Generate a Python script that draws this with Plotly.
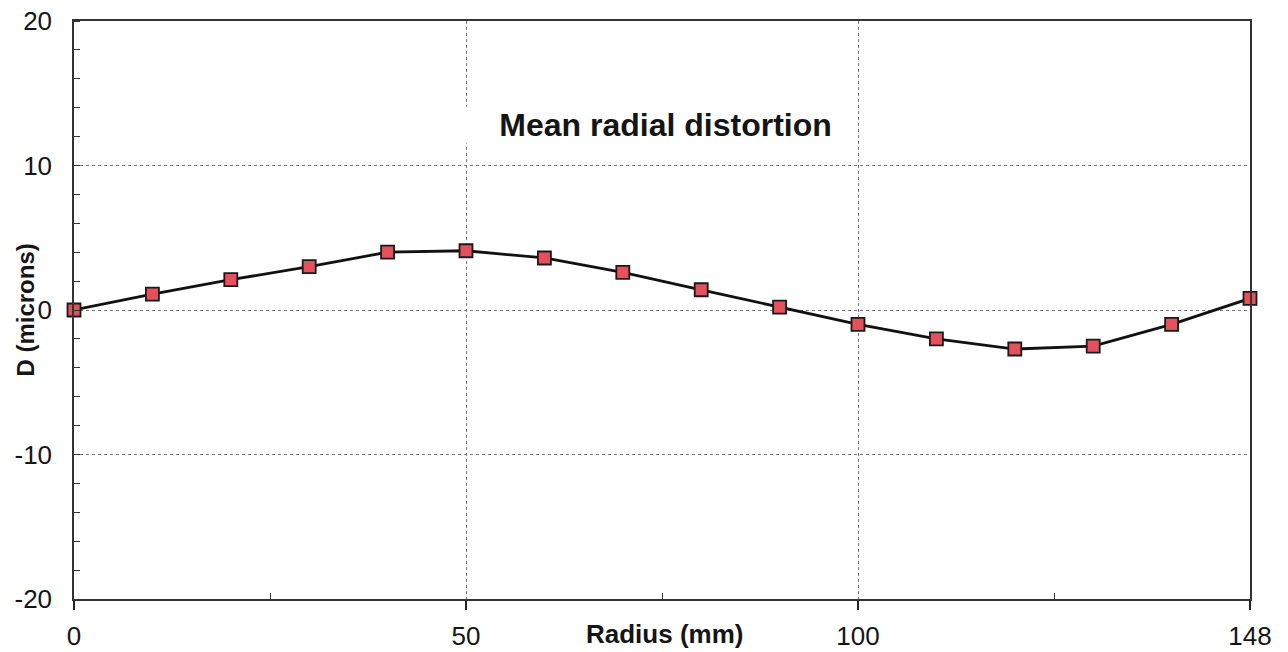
import plotly.graph_objects as go

# Data (category axis: evenly spaced radii, last one is 148)
radius_labels = ["0", "10", "20", "30", "40", "50", "60", "70",
                 "80", "90", "100", "110", "120", "130", "140", "148"]
distortion = [0.0, 1.1, 2.1, 3.0, 4.0, 4.1, 3.6, 2.6,
              1.4, 0.2, -1.0, -2.0, -2.7, -2.5, -1.0, 0.8]

x_tick_labels = ["0", "50", "100", "148"]
x_minor_ticks = [25, 75, 125]
y_tick_vals = [-20, -10, 0, 10, 20]
y_tick_text = ["-20", "-10", "0", "10", "20"]

title_text = "Mean radial distortion"
x_title = "Radius (mm)"
y_title = "D (microns)"

FONT = "Liberation Sans, Arial, sans-serif"
TXT = "#151515"

fig = go.Figure()
fig.add_trace(go.Scatter(
    x=radius_labels, y=distortion,
    mode="lines+markers",
    line=dict(color="#111111", width=2.8),
    marker=dict(symbol="square", size=13, color="#E4505C",
                line=dict(color="#1a1a1a", width=1.8)),
    cliponaxis=False,
    showlegend=False,
))

# page body has an 8px margin, so the figure is sized/offset to compensate
fig.update_layout(
    width=1280, height=644,
    margin=dict(l=66, r=38, t=13, b=53, autoexpand=False),
    paper_bgcolor="white", plot_bgcolor="white",
    font=dict(family=FONT, color=TXT),
    xaxis=dict(
        type="category", automargin=False,
        categoryorder="array", categoryarray=radius_labels,
        range=[0, len(radius_labels) - 1],
        tickmode="array", tickvals=x_tick_labels, ticktext=x_tick_labels,
        ticks="outside", ticklen=9, tickwidth=1.5, tickcolor="#222",
        tickfont=dict(size=26, color=TXT),
        ticklabelstandoff=4, ticklabeloverflow="allow",
        showgrid=True, gridcolor="#777", gridwidth=1, griddash="dot",
        showline=True, linecolor="#333", linewidth=1.5, mirror=True,
        zeroline=False,
    ),
    xaxis2=dict(
        overlaying="x", anchor="y", side="bottom", automargin=False,
        range=[0, 150],
        tickmode="array", tickvals=x_minor_ticks,
        ticks="inside", ticklen=6, tickwidth=1, tickcolor="#333",
        showticklabels=False, showgrid=False, showline=False, zeroline=False,
    ),
    yaxis=dict(
        range=[-20, 20], automargin=False,
        tickmode="array", tickvals=y_tick_vals, ticktext=y_tick_text,
        ticks="", tickfont=dict(size=26, color=TXT),
        ticklabelstandoff=15, ticklabeloverflow="allow",
        showgrid=True, gridcolor="#777", gridwidth=1, griddash="dot",
        showline=True, linecolor="#333", linewidth=1.5, mirror=True,
        zeroline=False,
        minor=dict(dtick=2, ticks="inside", ticklen=6, tickwidth=1,
                   tickcolor="#333", showgrid=False),
    ),
)

# invisible trace so the overlay axis (minor x ticks) is drawn
fig.add_trace(go.Scatter(x=[x_minor_ticks[0]], y=[None], xaxis="x2",
                         mode="markers", showlegend=False, hoverinfo="skip"))

fig.add_annotation(
    text="\u00a0" * 6 + "<b>" + title_text + "</b>" + "\u00a0",
    xref="paper", yref="paper", x=0.484, y=0.82,
    xanchor="center", yanchor="middle", showarrow=False,
    font=dict(size=32, color=TXT, family=FONT),
    bgcolor="white", borderpad=0,
)
fig.add_annotation(
    text="<b>" + x_title + "</b>",
    xref="paper", yref="paper", x=0.502, y=-0.061,
    xanchor="center", yanchor="middle", showarrow=False,
    font=dict(size=26, color=TXT, family=FONT),
)
fig.add_annotation(
    text="<b>" + y_title + "</b>",
    xref="paper", yref="paper", x=-0.042, y=0.5,
    xanchor="center", yanchor="middle", showarrow=False, textangle=-90,
    font=dict(size=24, color=TXT, family=FONT),
)

fig.write_html("out.html")
